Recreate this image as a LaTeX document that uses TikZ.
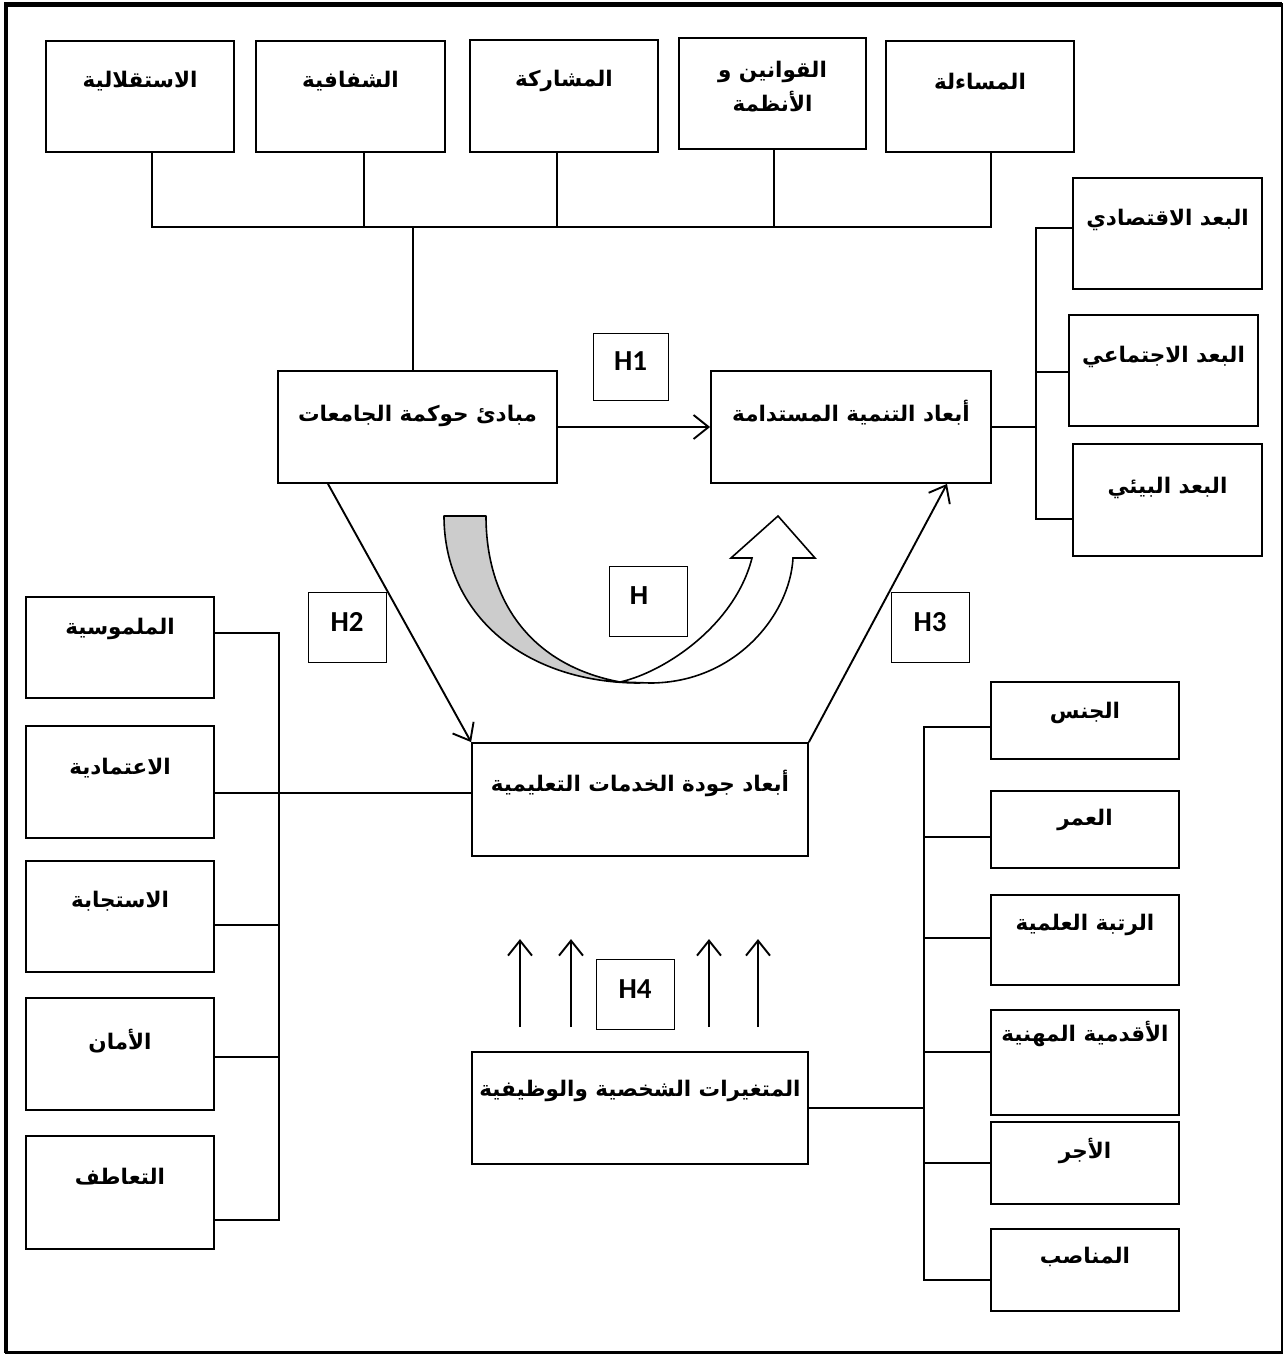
\documentclass[tikz,border=0pt]{standalone}
\usepackage{fontspec}
\usetikzlibrary{arrows.meta,calc}
\TeXXeTstate=1
\newfontfamily\arabicfont[Script=Arabic]{DejaVu Sans}
\newfontfamily\hfont{Carlito}
\newfontfamily\hhfont{Liberation Sans}
\newcommand\artext[1]{\beginR #1\endR}
\begin{document}
\begin{tikzpicture}[x=1pt,y=-1pt,
  box/.style={draw, line width=1.8pt, inner sep=0pt},
  hbox/.style={draw, line width=0.9pt, inner sep=0pt, minimum width=78pt, minimum height=70pt, font=\hfont\bfseries\fontsize{29}{30}\selectfont, text depth=10pt},
  artxt/.style={font=\arabicfont\bfseries\fontsize{21.5}{34}\selectfont, inner sep=0pt, align=center},
  conn/.style={line width=1.6pt},
  arr/.style={line width=1.9pt, -{Straight Barb[length=15pt,width=24pt,line width=1.9pt]}},
]
\useasboundingbox (0,0) rectangle (1285,1355);
% frame
\draw[line width=2.5pt] (6,4.7) rectangle (1282,1352.5);
\draw[line width=4.5pt] (6,1352.5) -- (6,4.7) -- (1282,4.7);

% top boxes
\node[box, minimum width=188pt, minimum height=111pt] (ind) at (140,96.5) {};
\node[box, minimum width=189pt, minimum height=111pt] (tra) at (350.5,96.5) {};
\node[box, minimum width=188pt, minimum height=112pt] (par) at (564,96) {};
\node[box, minimum width=187pt, minimum height=111pt] (law) at (772.5,93.5) {};
\node[box, minimum width=188pt, minimum height=111pt] (acc) at (980,96.5) {};
\node[artxt] (indt) at ([yshift=-41pt]ind.north) {\artext{الاستقلالية}};
\node[artxt] (trat) at ([yshift=-41pt]tra.north) {\artext{الشفافية}};
\node[artxt] (part) at ([yshift=-42pt]par.north) {\artext{المشاركة}};
\node[artxt] (lawt) at ([yshift=-49pt]law.north) {\artext{القوانين و}\\\artext{الأنظمة}};
\node[artxt] (acct) at ([yshift=-41pt]acc.north) {\artext{المساءلة}};

% middle boxes
\node[box, minimum width=279pt, minimum height=112pt] (gov) at (417.5,427) {};
\node[box, minimum width=280pt, minimum height=112pt] (sus) at (851,427) {};
\node[artxt] (govt) at ([yshift=-46pt]gov.north) {\artext{مبادئ حوكمة الجامعات}};
\node[artxt] (sust) at ([yshift=-43pt]sus.north) {\artext{أبعاد التنمية المستدامة}};
\node[box, minimum width=336pt, minimum height=113pt] (qual) at (640,799.5) {};
\node[artxt] (qualt) at ([yshift=-41pt]qual.north) {\artext{أبعاد جودة الخدمات التعليمية}};
\node[box, minimum width=336pt, minimum height=112pt] (var) at (640,1108) {};
\node[artxt] (vart) at ([yshift=-40pt]var.north) {\artext{المتغيرات الشخصية والوظيفية}};

% H boxes
\node[hbox, minimum width=75pt, minimum height=67pt] (h1) at (630.5,366.5) {H1};
\node[hbox] (h2) at (347,627) {H2};
\node[hbox] (h3) at (930,627) {H3};
\node[hbox, font=\hhfont\bfseries\fontsize{26}{30}\selectfont] (h) at (648,601) {\hspace{-18pt}H};
\node[hbox] (h4) at (635,994) {H4};

% right top boxes
\node[box, minimum width=189pt, minimum height=111pt] (eco) at (1167.5,233.5) {};
\node[box, minimum width=189pt, minimum height=111pt] (soc) at (1163.5,370.5) {};
\node[box, minimum width=189pt, minimum height=112pt] (env) at (1167.5,500) {};
\node[artxt] (ecot) at ([yshift=-43pt]eco.north) {\artext{البعد الاقتصادي}};
\node[artxt] (soct) at ([yshift=-43pt]soc.north) {\artext{البعد الاجتماعي}};
\node[artxt] (envt) at ([yshift=-45pt]env.north) {\artext{البعد البيئي}};

% left boxes
\node[box, minimum width=188pt, minimum height=101pt] (tan) at (120,647.5) {};
\node[box, minimum width=188pt, minimum height=112pt] (rel) at (120,782) {};
\node[box, minimum width=188pt, minimum height=111pt] (res) at (120,916.5) {};
\node[box, minimum width=188pt, minimum height=112pt] (saf) at (120,1054) {};
\node[box, minimum width=188pt, minimum height=113pt] (emp) at (120,1192.5) {};
\node[artxt] (tant) at ([yshift=-33pt]tan.north) {\artext{الملموسية}};
\node[artxt] (relt) at ([yshift=-43pt]rel.north) {\artext{الاعتمادية}};
\node[artxt] (rest) at ([yshift=-41pt]res.north) {\artext{الاستجابة}};
\node[artxt] (saft) at ([yshift=-44pt]saf.north) {\artext{الأمان}};
\node[artxt] (empt) at ([yshift=-42pt]emp.north) {\artext{التعاطف}};

% right bottom boxes
\node[box, minimum width=188pt, minimum height=77pt] (gen) at (1085,720.5) {};
\node[box, minimum width=188pt, minimum height=77pt] (age) at (1085,829.5) {};
\node[box, minimum width=188pt, minimum height=90pt] (rank) at (1085,940) {};
\node[box, minimum width=188pt, minimum height=105pt] (sen) at (1085,1062.5) {};
\node[box, minimum width=188pt, minimum height=82pt] (wage) at (1085,1163) {};
\node[box, minimum width=188pt, minimum height=82pt] (pos) at (1085,1270) {};
\node[artxt] (gent) at ([yshift=-32pt]gen.north) {\artext{الجنس}};
\node[artxt] (aget) at ([yshift=-30pt]age.north) {\artext{العمر}};
\node[artxt] (rankt) at ([yshift=-31pt]rank.north) {\artext{الرتبة العلمية}};
\node[artxt] (sent) at ([yshift=-25pt]sen.north) {\artext{الأقدمية المهنية}};
\node[artxt] (waget) at ([yshift=-30pt]wage.north) {\artext{الأجر}};
\node[artxt] (post) at ([yshift=-29pt]pos.north) {\artext{المناصب}};

% top bus
\coordinate (tb1) at (152,227);
\coordinate (tb5) at (991,227);
\draw[conn] ([xshift=12pt]ind.south) -- (tb1) -- (tb5) -- ([xshift=11pt]acc.south);
\draw[conn] ([xshift=13.5pt]tra.south) -- ++(0,75);
\draw[conn] ([xshift=-7pt]par.south) -- ++(0,75);
\draw[conn] ([xshift=1.5pt]law.south) -- ++(0,78);
\draw[conn] ([xshift=-4.5pt]gov.north) -- ++(0,-144);

% hypotheses arrows
\draw[arr] (gov.east) -- (sus.west);
\draw[arr] ([xshift=-89.5pt]gov.south) -- (qual.north west);
\draw[arr] (qual.north east) -- ([xshift=96pt]sus.south);

% left bus
\coordinate (lb1) at (279,633);
\coordinate (lb2) at (279,793);
\coordinate (lb3) at (279,925);
\coordinate (lb4) at (279,1057);
\coordinate (lb5) at (279,1220);
\draw[conn] (tan.east |- lb1) -- (lb1) -- (lb5) -- (emp.east |- lb5);
\draw[conn] (rel.east |- lb2) -- (qual.west |- lb2);
\draw[conn] (res.east |- lb3) -- (lb3);
\draw[conn] (saf.east |- lb4) -- (lb4);

% right top bus
\coordinate (rt1) at (1036,228);
\coordinate (rt2) at (1036,372);
\coordinate (rt3) at (1036,519);
\draw[conn] (eco.west |- rt1) -- (rt1) -- (rt3) -- (env.west |- rt3);
\draw[conn] (soc.west |- rt2) -- (rt2);
\draw[conn] (sus.east) -- (sus.east -| rt1);

% right bottom bus
\coordinate (rb1) at (924,727);
\coordinate (rb2) at (924,837);
\coordinate (rb3) at (924,938);
\coordinate (rb4) at (924,1052);
\coordinate (rb5) at (924,1163);
\coordinate (rb6) at (924,1280);
\draw[conn] (gen.west |- rb1) -- (rb1) -- (rb6) -- (pos.west |- rb6);
\draw[conn] (age.west |- rb2) -- (rb2);
\draw[conn] (rank.west |- rb3) -- (rb3);
\draw[conn] (sen.west |- rb4) -- (rb4);
\draw[conn] (wage.west |- rb5) -- (rb5);
\draw[conn] (var.east) -- (var.east -| rb1);

% up arrows (H4)
\draw[arr] ([shift={(-120pt,24pt)}]var.north) -- ++(0,-88);
\draw[arr] ([shift={(-69pt,24pt)}]var.north) -- ++(0,-88);
\draw[arr] ([shift={(69pt,24pt)}]var.north) -- ++(0,-88);
\draw[arr] ([shift={(118pt,24pt)}]var.north) -- ++(0,-88);

% curved U arrow
\filldraw[fill=black!20, line width=1.6pt, line join=round] (444,516) -- (486,516) .. controls (486,600) and (530,665) .. (620,682) -- (640,683) .. controls (525,683) and (444,615) .. (444,516) -- cycle;
\filldraw[fill=white, line width=1.6pt, line join=miter] (620,682) .. controls (665,672) and (735,625) .. (752,558) -- (731,558) -- (778,516) -- (815,558) -- (793,558) .. controls (790,615) and (735,683) .. (650,683) -- cycle;
\end{tikzpicture}
\end{document}
